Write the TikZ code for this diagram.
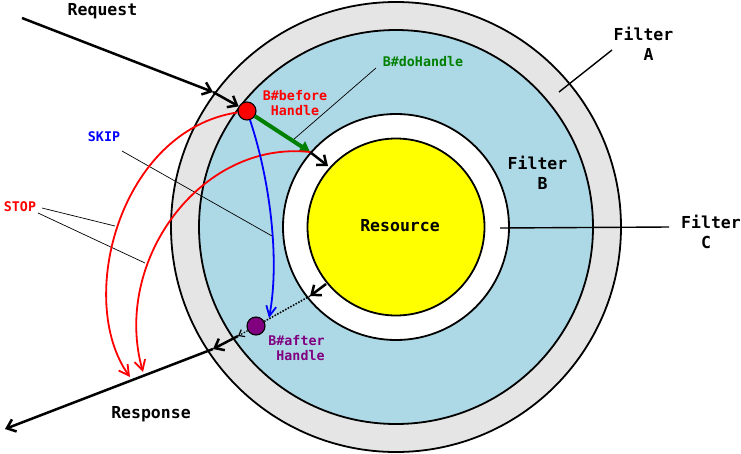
\documentclass[tikz,border=0pt]{standalone}
\usepackage{fontspec}
\setmonofont{DejaVu Sans Mono}
\usetikzlibrary{arrows.meta}

\definecolor{ringA}{RGB}{229,229,229}
\definecolor{ringB}{RGB}{173,216,230}
\definecolor{core}{RGB}{255,255,0}
\definecolor{dogreen}{RGB}{0,128,0}
\definecolor{afterpurple}{RGB}{128,0,128}

\tikzset{
  big/.style={font=\ttfamily\bfseries\fontsize{16.5}{20}\selectfont,align=center,inner sep=0pt},
  small/.style={font=\ttfamily\bfseries\fontsize{13.3}{15}\selectfont,align=center,inner sep=0pt},
  flow/.style={line width=2.5pt,-{Straight Barb[length=8pt,width=13pt]}},
  stopline/.style={red,line width=1.8pt,-{Straight Barb[length=10pt,width=11pt]}},
  skipline/.style={blue,line width=1.8pt,-{Straight Barb[length=10pt,width=10pt]}},
  lead/.style={line width=0.7pt},
  dot/.style={circle,draw,line width=1.1pt,minimum size=18pt,inner sep=0pt},
}

\begin{document}
\begin{tikzpicture}[x=1pt,y=-1pt]
\useasboundingbox (0,0) rectangle (741,453);
\coordinate (O) at (396,227);

% the filters round the resource
\draw[line width=1.8pt,fill=ringA] (O) circle (225);
\draw[line width=1.8pt,fill=ringB] (O) circle (197);
\draw[line width=1.8pt,fill=white] (O) circle (113);
\draw[line width=1.8pt,fill=core] (O) circle (88.5);

\coordinate (reqS) at (22,18);
\coordinate (inA) at (213,92);
\coordinate (inC) at (310,152);
\coordinate (inR) at (328,166);
\coordinate (outR) at (326,284);
\coordinate (outC) at (310,296);
\coordinate (outB) at (238,336);
\coordinate (outA) at (213,349);
\coordinate (respE) at (5,429);
\coordinate (skipE) at (269,318);
\coordinate (stopE1) at (130,377);
\coordinate (stopE2) at (143,372);

% leaders
\coordinate (fAs) at (612,50);
\coordinate (fAe) at (559,92);
\coordinate (fCs) at (669,227);
\coordinate (fCe) at (500,228);
\coordinate (doS) at (376,68);
\coordinate (doE) at (293,140);
\coordinate (skS) at (122,151);
\coordinate (skE) at (272,236);
\coordinate (stS1) at (42,208);
\coordinate (stE1) at (115,226);
\coordinate (stS2) at (38,213);
\coordinate (stE2) at (145,263);
\draw[line width=1.4pt] (fAs) -- (fAe);
\draw[line width=1.4pt] (fCs) -- (fCe);
\draw[lead] (doS) -- (doE);
\draw[lead] (skS) -- (skE);
\draw[lead] (stS1) -- (stE1);
\draw[lead] (stS2) -- (stE2);

\node[dot,fill=red] (before) at (247,111) {};
\node[dot,fill=afterpurple] (after) at (256,326) {};

% request in
\draw[flow] (reqS) -- (inA);
\draw[flow] (inA) -- (before);
\draw[dogreen,line width=4pt,-{Triangle[length=10pt,width=12pt]}] (before) -- (inC);
\draw[flow] (inC) -- (inR);

% response out
\draw[flow] (outR) -- (outC);
\draw[line width=1.6pt,dash pattern=on 1.5pt off 1.5pt] (outC) -- (after);
\draw[line width=1.2pt,dash pattern=on 1.5pt off 1.5pt,-{Straight Barb[length=5pt,width=8pt]}] (after) -- (outB);
\draw[flow] (outB) -- (outA);
\draw[flow] (outA) -- (respE);

% STOP and SKIP
\draw[stopline] (before) .. controls (120,130) and (75,300) .. (stopE1);
\draw[stopline] (inC) .. controls (200,140) and (112,262) .. (stopE2);
\draw[skipline] (before) .. controls (270,180) and (280,260) .. (skipE);

\node[big] (request) at (102.5,11) {Request};
\node[big] (response) at (151,414.5) {Response};
\node[big] (resource) at (400,226) {Resource};
\node[big] (filterA) at (643.5,44) {Filter\\\phantom{x}A};
\node[big] (filterB) at (537.5,173) {Filter\\\phantom{x}B};
\node[big] (filterC) at (711,232) {Filter\\C\phantom{x}};
\node[small,dogreen] (doHandle) at (423,62) {B\#doHandle};
\node[small,red] (beforeH) at (295,103) {B\#before\\Handle};
\node[small,blue] (skip) at (104,137) {SKIP};
\node[small,red] (stop) at (20,207) {STOP};
\node[small,afterpurple] (afterH) at (296.5,348) {B\#after\\\phantom{x}Handle};
\end{tikzpicture}
\end{document}
